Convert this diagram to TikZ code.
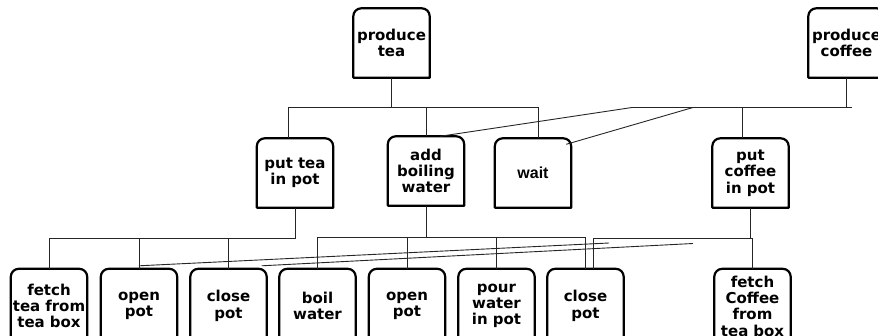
\documentclass[tikz,border=0pt]{standalone}
\usepackage{fontspec}
\setmainfont{DejaVu Sans}
\newfontfamily\plainsans{Liberation Sans}
\begin{document}
\begin{tikzpicture}[x=1pt,y=-1pt,
  task/.style={minimum width=76pt, minimum height=69pt, inner sep=0pt,
    align=center, text width=76pt,
    font=\fontsize{15}{16.3}\selectfont\bfseries},
  lowtask/.style={task, minimum height=74pt},
  frame/.style={line width=2.2pt, line join=round},
  link/.style={line width=0.9pt, black!85}]
\useasboundingbox (0,0) rectangle (878,336);

% top level
\node[task] (pt) at (391.5,43) {produce\\tea};
\node[task] (pc) at (846.5,43) {produce\\coffee};

% second level
\node[task] (ptp) at (295,173) {put tea\\in pot};
\node[task] (abw) at (426,171) {add\\boiling\\water};
\node[task, font=\fontsize{16}{18}\selectfont\plainsans\bfseries] (wt) at (533,173) {wait};
\node[task] (pcp) at (750.5,173) {put\\coffee\\in pot};

% third level
\node[lowtask] (ft)  at (49,306)    {fetch\\tea from\\tea box};
\node[lowtask] (op1) at (139,306)   {open\\pot};
\node[lowtask] (cp1) at (228.5,306) {close\\pot};
\node[lowtask] (bw)  at (317.5,306) {boil\\water};
\node[lowtask] (op2) at (407,306)   {open\\pot};
\node[lowtask] (pw)  at (496.5,306) {pour\\water\\in pot};
\node[lowtask] (cp2) at (585.5,306) {close\\pot};
\node[lowtask] (fc)  at (752.5,306) {fetch\\Coffee\\from\\tea box};

% frames: rounded top corners, square bottom corners
\foreach \n in {pt,pc,ptp,abw,wt,pcp,ft,op1,cp1,bw,op2,pw,cp2,fc}
  \draw[frame] (\n.south west) -- ([yshift=-8pt]\n.north west)
    arc[start angle=180, end angle=90, radius=8pt]
    -- ([xshift=-8pt]\n.north east)
    arc[start angle=90, end angle=0, radius=8pt]
    -- (\n.south east) -- cycle;

% buses under the top level
\coordinate (teaL) at (288,107);
\coordinate (teaR) at (538,107);
\coordinate (cofL) at (632,107.5);
\coordinate (cofM) at (693,107.5);
\coordinate (cofD) at (742,107.5);
\coordinate (cofR) at (852,107.5);

\draw[link] (pt.south) -- (pt.south |- teaL);
\draw[link] (teaL) -- (teaR);
\draw[link] (teaL) -- (teaL |- ptp.north);
\draw[link] (abw.north |- teaL) -- (abw.north);
\draw[link] (teaR) -- (teaR |- wt.north);

\draw[link] (pc.south) -- (pc.south |- cofR);
\draw[link] (cofL) -- (cofR);
\draw[link] (cofD) -- (cofD |- pcp.north);
\draw[link] (cofL) -- ([xshift=14pt]abw.north);
\draw[link] (cofM) -- ([xshift=-5pt,yshift=-6pt]wt.north east);

% buses under the second level
\coordinate (busA) at (0,238);
\coordinate (busB) at (0,237);
\coordinate (dg1) at (609,243);
\coordinate (dg2) at (693,243.5);

\draw[link] (ptp.south) |- (ft.north |- busA) -- (ft.north);
\draw[link] (op1.north |- busA) -- (op1.north);
\draw[link] (cp1.north |- busA) -- (cp1.north);

\draw[link] (abw.south) -- (abw.south |- busB);
\draw[link] (bw.north) |- (cp2.north |- busB) -- (cp2.north);
\draw[link] (op2.north |- busB) -- (op2.north);
\draw[link] (pw.north |- busB) -- (pw.north);

\draw[link] (pcp.south) -- (pcp.south |- busA);
\draw[link] ([xshift=7.5pt]cp2.north) |- (fc.north |- busA) -- (fc.north);

\draw[link] ([yshift=3pt]op1.north) -- (dg1);
\draw[link] ([xshift=-5pt,yshift=3pt]cp1.north east) -- (dg2);
\end{tikzpicture}
\end{document}
